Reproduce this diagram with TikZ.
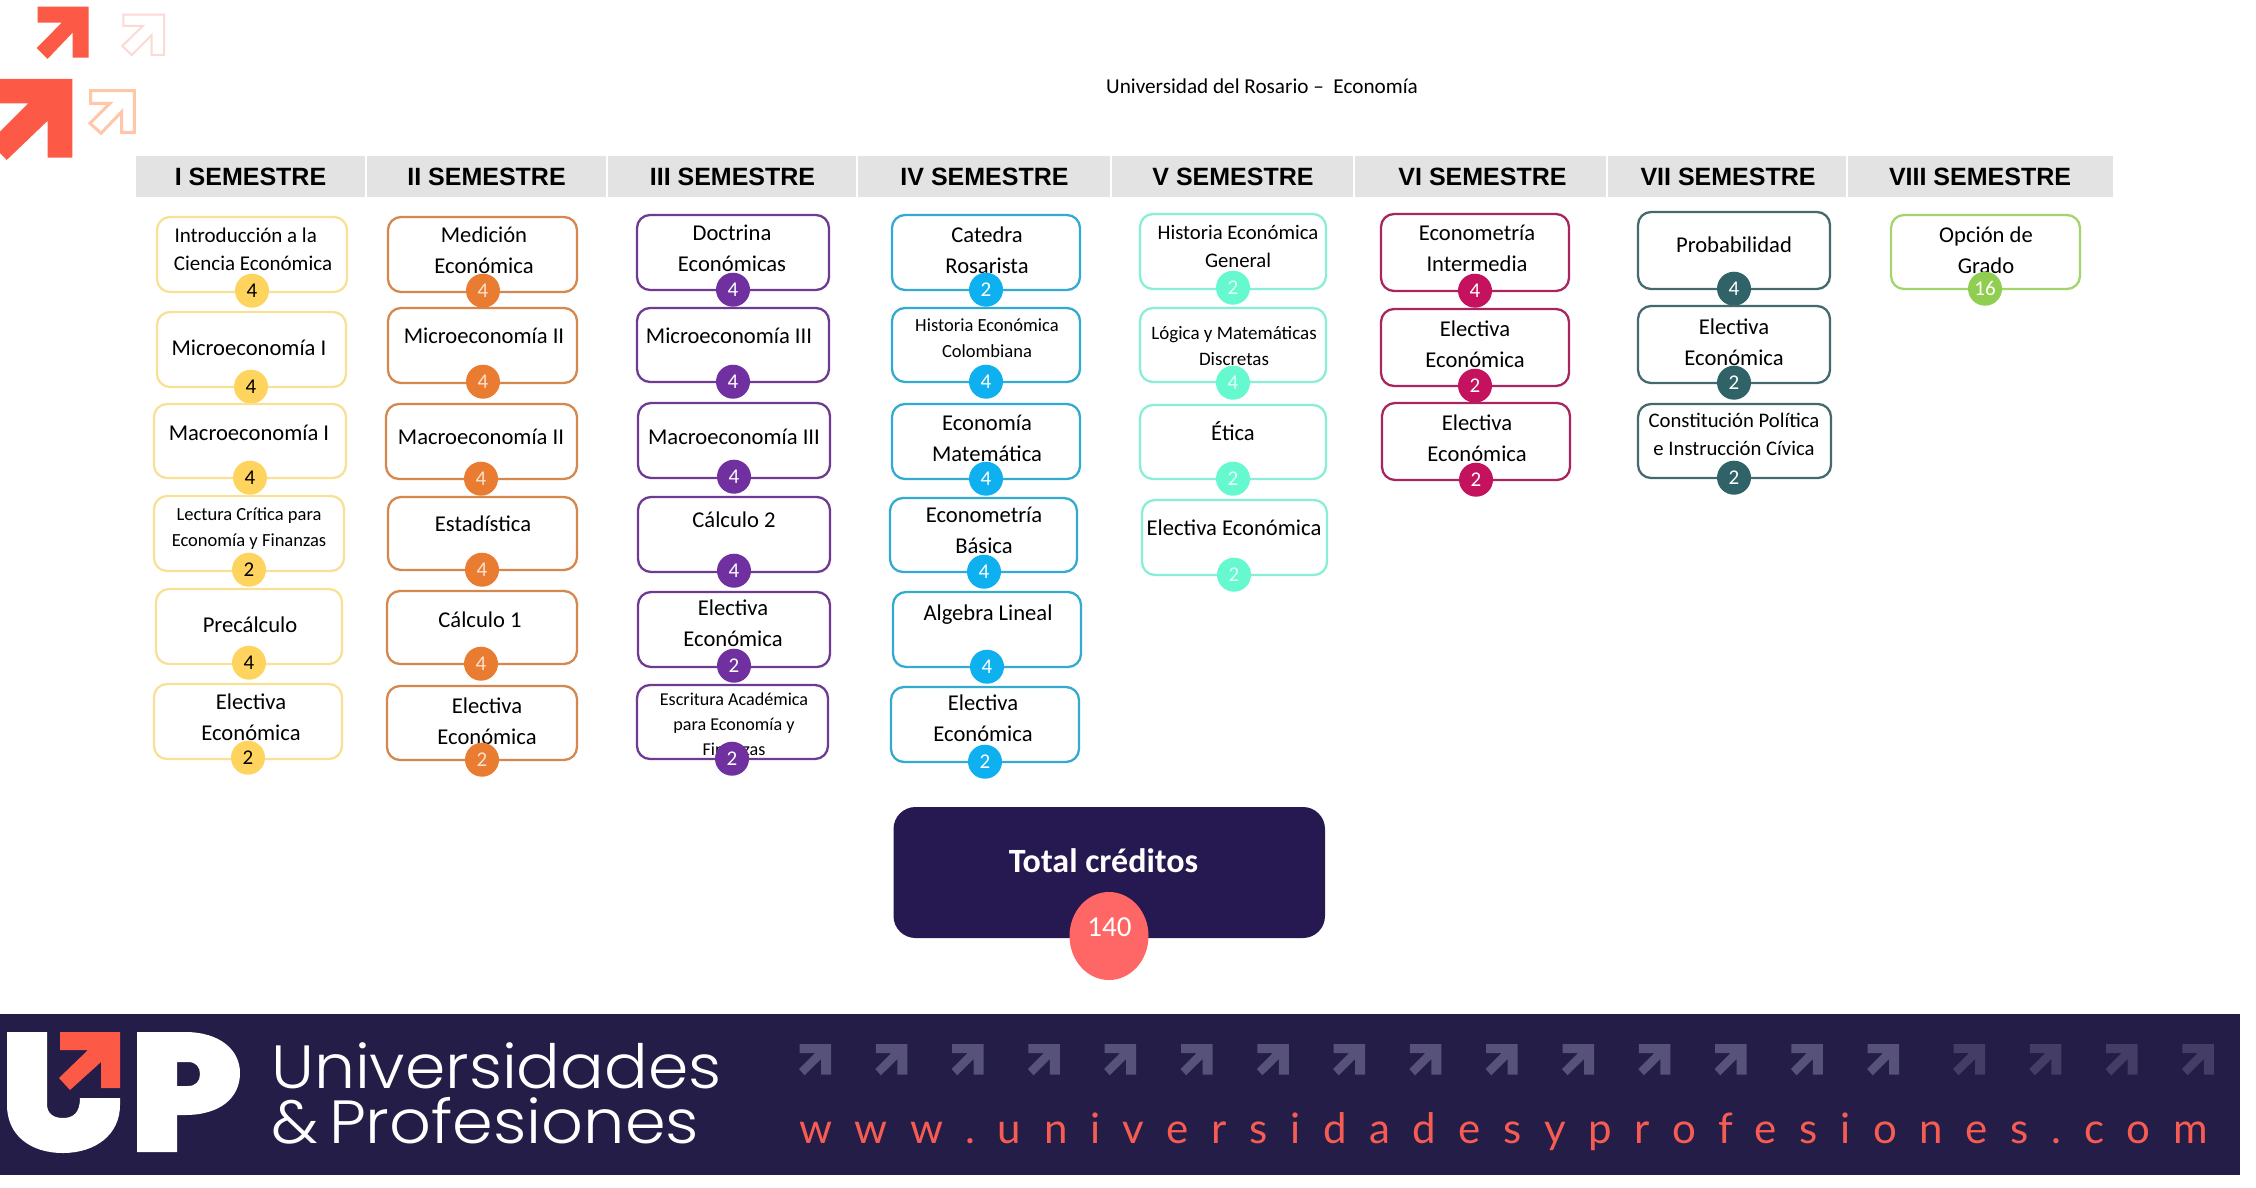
\documentclass[tikz,border=0pt]{standalone}
\usetikzlibrary{shapes.geometric}
\usepackage{fontspec}
\setmainfont{Carlito}
\newfontfamily\headfont{Liberation Sans}
\newfontfamily\brandfont{Poppins Light}
\newfontfamily\urlfont{Lato}[LetterSpace=54]

\definecolor{navy}{HTML}{231D47}
\definecolor{plum}{HTML}{261850}
\definecolor{coral}{HTML}{FF6666}
\definecolor{logored}{HTML}{FC5A47}
\definecolor{band}{HTML}{E3E3E3}
\definecolor{arrowlit}{HTML}{57527A}
\definecolor{arrowdim}{HTML}{443E66}
\definecolor{urlred}{HTML}{F75C52}
\definecolor{palepink}{HTML}{FBD9D4}
\definecolor{palepeach}{HTML}{FFC6A8}

% line, fill and digit colours of each semester
\definecolor{yelline}{HTML}{F9E097}\definecolor{yelfill}{HTML}{FFD45E}\colorlet{yeltext}{black}
\definecolor{oraline}{HTML}{D5874D}\definecolor{orafill}{HTML}{E97C30}\definecolor{oratext}{HTML}{FBE3D2}
\definecolor{purline}{HTML}{6F3A92}\definecolor{purfill}{HTML}{7030A0}\colorlet{purtext}{white}
\definecolor{bluline}{HTML}{33ABD0}\definecolor{blufill}{HTML}{0FB0EF}\colorlet{blutext}{white}
\definecolor{minline}{HTML}{88EFD6}\definecolor{minfill}{HTML}{66F9CF}\definecolor{mintext}{HTML}{E0FFF6}
\definecolor{criline}{HTML}{A8255F}\definecolor{crifill}{HTML}{C4125F}\colorlet{critext}{white}
\definecolor{tealine}{HTML}{45696F}\definecolor{teafill}{HTML}{2F6368}\colorlet{teatext}{white}
\definecolor{greline}{HTML}{A2D66C}\definecolor{grefill}{HTML}{8FCE51}\colorlet{gretext}{white}

\newcommand\bigf{\fontsize{22.6}{31}\selectfont}
\newcommand\medf{\fontsize{21}{28}\selectfont}
\newcommand\smlf{\fontsize{18.5}{26}\selectfont}
\def\nl{\\\strut}

\tikzset{
  coursebox/.style={draw=#1line, line width=2.3pt, rounded corners=13pt, fill=white,
                    inner sep=0pt, outer sep=0pt},
  credit/.style={circle, fill=#1fill, text=#1text, minimum size=34pt, inner sep=0pt,
                 font=\fontsize{21}{21}\selectfont},
  coursetext/.style={inner sep=0pt, align=center, text=black},
  semester/.style={inner sep=0pt, font=\headfont\bfseries\fontsize{25}{28}\selectfont},
  plain/.style={inner sep=0pt},
}

% id, colour, left, top, right, bottom, badge x, badge y, credits; then text x, text y, font, text
\def\course#1#2#3#4#5#6#7#8#9{%
  \def\cid{#1}\def\ccol{#2}\def\boxl{#3}\def\boxt{#4}\def\boxr{#5}\def\boxb{#6}%
  \def\badgex{#7}\def\badgey{#8}\def\cred{#9}\coursefinish}
\def\coursefinish#1#2#3#4{%
  \pgfmathsetmacro\boxw{\boxr-\boxl}\pgfmathsetmacro\boxh{\boxb-\boxt}%
  \pgfmathsetmacro\boxx{(\boxr+\boxl)/2}\pgfmathsetmacro\boxy{(\boxb+\boxt)/2}%
  \pgfmathsetmacro\texty{#2+2}\pgfmathsetmacro\creditY{\badgey+0.7}%
  \node[coursebox=\ccol, minimum width=\boxw pt, minimum height=\boxh pt] (\cid) at (\boxx,\boxy) {};
  \node[coursetext, font=#3] (\cid-t) at (#1,\texty) {\strut #4};
  \node[credit=\ccol] (\cid-c) at (\badgex,\creditY) {\cred};
}
% one small arrow of the footer row: left edge, colour
\def\smallarrow#1#2{\fill[#2] (#1+0.5,1044) -- (#1+32,1044) -- (#1+32,1074.5) -- (#1+22,1074.5) -- (#1+22,1059) -- (#1+5.6,1075.3) -- (#1,1069) -- (#1+16,1053) -- (#1+0.5,1053) -- cycle;}

\begin{document}
\begin{tikzpicture}[x=1pt,y=-1pt]
\useasboundingbox (0,0) rectangle (2256,1188);
\fill[white] (0,0) rectangle (2256,1188);

% corner arrows
\fill[logored] (37.7,6.7) -- (88.7,6.7) -- (88.7,57.7) -- (72.7,57.7) -- (72.7,32.5) -- (47.5,59) -- (36.7,48) -- (61.7,22.7) -- (37.7,22.7) -- cycle;
\fill[logored] (0,79) -- (72.3,79) -- (72.3,157.7) -- (47.7,157.7) -- (47.7,120.7) -- (6.7,160) -- (0,153) -- (0,131.7) -- (28.3,103.3) -- (0,103.3) -- cycle;
\draw[color=palepink, line width=2pt] (123.3,14.7) -- (164,14.7) -- (164,55) -- (151.7,55) -- (151.7,35) -- (131.7,55) -- (122.3,46) -- (142.7,26) -- (123.3,26) -- cycle;
\draw[color=palepeach, line width=3pt] (90.7,90.7) -- (134.3,90.7) -- (134.3,132.3) -- (121.7,132.3) -- (121.7,111.7) -- (101,133.3) -- (90,123.3) -- (110,103.3) -- (90.7,103.3) -- cycle;

% title
\node[plain, font=\fontsize{21.2}{24}\selectfont] (title) at (1262,86.5) {Universidad del Rosario --\ \ Economía};

% semester header band
\foreach \id/\l/\r/\c/\txt in {
  s1/136/365/250.5/I SEMESTRE, s2/367/606/486.5/II SEMESTRE, s3/608/856/732.5/III SEMESTRE,
  s4/858/1110/984.5/IV SEMESTRE, s5/1112/1353/1233/V SEMESTRE, s6/1355/1606/1482.5/VI SEMESTRE,
  s7/1608/1846/1728/VII SEMESTRE, s8/1848/2113/1980/VIII SEMESTRE}{
  \fill[band] (\l,156) rectangle (\r,197);
  \node[semester] (\id) at (\c,177) {\txt};
}

% first semester
\course{a1}{yel}{157}{217}{347}{292}{252}{290}{4}{253}{249}{\medf}{\makebox[157pt][l]{Introducción a la}\nl Ciencia Económica}
\course{a2}{yel}{157}{312}{346}{387}{251}{386}{4}{249}{347}{\bigf}{Microeconomía I}
\course{a3}{yel}{154}{404}{346}{478}{250}{477}{4}{249}{432}{\bigf}{Macroeconomía I}
\course{a4}{yel}{154}{496}{344}{571}{249}{569}{2}{249}{526}{\smlf}{Lectura Crítica para\nl Economía y Finanzas}
\course{a5}{yel}{156}{589}{342}{664}{249}{662}{4}{250}{624}{\bigf}{Precálculo}
\course{a6}{yel}{154}{684}{342}{759}{248}{757}{2}{251}{717}{\bigf}{Electiva\nl Económica}

% second semester
\course{b1}{ora}{388}{217}{577}{292}{483}{290}{4}{484}{250}{\bigf}{Medición\nl Económica}
\course{b2}{ora}{388}{308}{577}{383}{483}{381}{4}{484}{335}{\bigf}{Microeconomía II}
\course{b3}{ora}{386}{404}{577}{479}{481}{478}{4}{481}{436}{\bigf}{Macroeconomía II}
\course{b4}{ora}{388}{497}{577}{570}{482}{569}{4}{483}{523}{\bigf}{Estadística}
\course{b5}{ora}{387}{591}{577}{664}{481}{663}{4}{480}{619}{\bigf}{Cálculo 1}
\course{b6}{ora}{387}{686}{577}{760}{482}{759}{2}{487}{721}{\bigf}{Electiva\nl Económica}

% third semester
\course{c1}{pur}{637}{215}{829}{290}{733}{289}{4}{732}{248}{\bigf}{Doctrina\nl Económicas}
\course{c2}{pur}{637}{308}{829}{382}{733}{381}{4}{729}{335}{\bigf}{Microeconomía III}
\course{c3}{pur}{638}{403}{830}{478}{734}{476}{4}{734}{436}{\bigf}{Macroeconomía III}
\course{c4}{pur}{638}{497}{830}{572}{734}{570}{4}{734}{519}{\bigf}{Cálculo 2}
\course{c5}{pur}{638}{592}{830}{667}{734}{665}{2}{733}{623}{\bigf}{Electiva\nl Económica}
\course{c6}{pur}{637}{685}{828}{759}{732}{758}{2}{734}{723}{\fontsize{18.1}{25}\selectfont}{Escritura Académica\nl para Economía y\nl Finanzas}

% fourth semester
\course{d1}{blu}{892}{215}{1080}{290}{986}{289}{2}{987}{250}{\bigf}{Catedra\nl Rosarista}
\course{d2}{blu}{892}{308}{1080}{382}{986}{381}{4}{987}{337}{\smlf}{Historia Económica\nl Colombiana}
\course{d3}{blu}{892}{404}{1080}{479}{986}{478}{4}{987}{438}{\bigf}{Economía\nl Matemática}
\course{d4}{blu}{890}{498}{1077}{572}{984}{571}{4}{984}{530}{\bigf}{Econometría\nl Básica}
\course{d5}{blu}{893}{592}{1081}{667}{987}{666}{4}{988}{612}{\bigf}{Algebra Lineal}
\course{d6}{blu}{891}{687}{1079}{762}{985}{761}{2}{983}{718}{\bigf}{Electiva\nl Económica}

% fifth semester
\course{e1}{min}{1140}{214}{1326}{289}{1233}{287}{2}{1238}{246}{\fontsize{20.7}{28}\selectfont}{Historia Económica\nl General}
\course{e2}{min}{1140}{308}{1326}{382}{1233}{382}{4}{1234}{345}{\fontsize{19}{26}\selectfont}{Lógica y Matemáticas\nl Discretas}
\course{e3}{min}{1140}{405}{1326}{479}{1233}{478}{2}{1233}{432}{\bigf}{Ética}
\course{e4}{min}{1142}{500}{1327}{575}{1234}{574}{2}{1234}{527}{\bigf}{Electiva Económica}

% sixth semester
\course{f1}{cri}{1381}{214}{1569}{291}{1475}{290}{4}{1477}{248}{\bigf}{Econometría\nl Intermedia}
\course{f2}{cri}{1381}{309}{1569}{386}{1475}{385}{2}{1475}{344}{\bigf}{Electiva\nl Económica}
\course{f3}{cri}{1382}{403}{1570}{480}{1476}{479}{2}{1477}{438}{\bigf}{Electiva\nl Económica}

% seventh semester
\course{g1}{tea}{1638}{212}{1830}{289}{1734}{288}{4}{1734}{244}{\bigf}{Probabilidad}
\course{g2}{tea}{1638}{306}{1830}{383}{1734}{382}{2}{1734}{342}{\bigf}{Electiva\nl Económica}
\course{g3}{tea}{1638}{404}{1831}{478}{1734}{477}{2}{1734}{434}{\fontsize{20.7}{28}\selectfont}{Constitución Política\nl e Instrucción Cívica}

% eighth semester
\course{h1}{gre}{1891}{215}{2080}{289}{1985}{288}{16}{1986}{250}{\bigf}{Opción de\nl Grado}

% credit total
\fill[plum, rounded corners=22pt] (893.5,807) rectangle (1325,938);
\node[plain, text=white, font=\bfseries\fontsize{34}{36}\selectfont] (total) at (1103.5,861) {Total créditos};
\node[ellipse, fill=coral, minimum width=79pt, minimum height=88pt, inner sep=0pt] (sum) at (1109,936) {};
\node[plain, text=white, font=\fontsize{29}{30}\selectfont] (sumtext) at (1109.5,927) {140};

% footer banner
\fill[navy] (0,1014) rectangle (2240,1175);
\fill[white] (7,1032) -- (47,1032) -- (47,1104) .. controls (47,1114) and (54,1118) .. (63,1118) .. controls (73,1118) and (80,1113) .. (80,1098) -- (120,1098) -- (120,1105) .. controls (120,1135) and (95,1153) .. (63,1153) .. controls (30,1153) and (7,1135) .. (7,1105) -- cycle;
\fill[logored] (60,1032) -- (120,1032) -- (120,1088) -- (101,1088) -- (101,1062) -- (70,1090) -- (59,1078) -- (88,1050) -- (60,1050) -- cycle;
\fill[white, even odd rule] (137,1032) -- (185,1032) .. controls (220,1032) and (240,1050) .. (240,1073) .. controls (240,1098) and (220,1115) .. (185,1115) -- (177,1115) -- (177,1152) -- (137,1152) -- cycle
  (177,1062) -- (188,1062) .. controls (196,1062) and (200,1067) .. (200,1074) .. controls (200,1081) and (196,1086) .. (188,1086) -- (177,1086) -- cycle;
\node[anchor=base west, plain, text=white, font=\brandfont\fontsize{61}{61}\selectfont] (brand1) at (271,1088) {\scalebox{1.062}[1]{Universidades}};
\node[anchor=base west, plain, text=white, font=\brandfont\fontsize{61}{61}\selectfont] (brand2) at (271,1143) {\scalebox{1.072}[1]{\&\,Profesiones}};

% row of arrows
\foreach \n in {0,...,14}{\pgfmathsetmacro\ax{799+76.3*\n}\smallarrow{\ax}{arrowlit}}
\foreach \n in {0,...,3}{\pgfmathsetmacro\ax{1953+76.3*\n}\smallarrow{\ax}{arrowdim}}
\node[anchor=base west, plain, text=urlred, font=\urlfont\fontsize{42}{42}\selectfont] (url) at (799,1143) {www.universidadesyprofesiones.com};
\end{tikzpicture}
\end{document}
